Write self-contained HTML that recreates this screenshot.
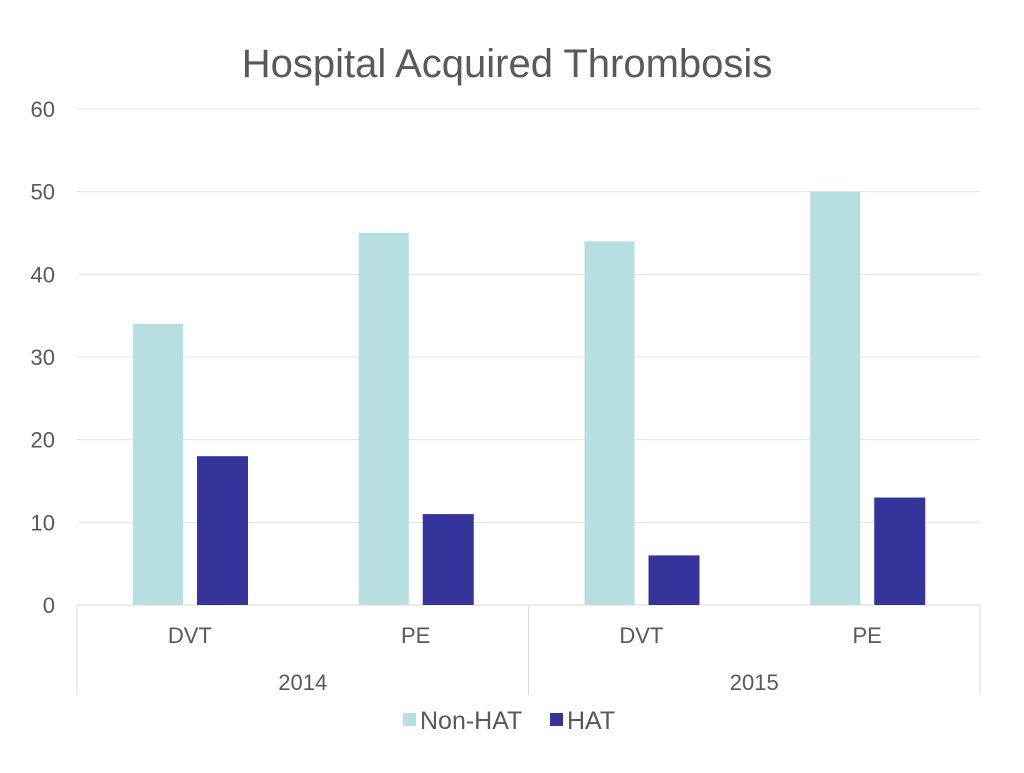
<!DOCTYPE html>
<html><head><meta charset="utf-8"><style>
body{margin:0;background:#fff;font-family:"Liberation Sans",sans-serif;}
svg text{font-family:"Liberation Sans",sans-serif;fill:#595959;}
</style></head><body>
<svg id="chart" width="1024" height="768">
<text x="507" y="77" font-size="40" text-anchor="middle">Hospital Acquired Thrombosis</text>
<g id="grid"></g><g id="bars"></g><g id="xaxis"></g>
<g>
<rect x="403" y="713" width="13" height="13" fill="#b7dfe2"/>
<text x="420" y="729" font-size="25">Non-HAT</text>
<rect x="550" y="713" width="13" height="13" fill="#34349a"/>
<text x="567" y="729" font-size="25">HAT</text>
</g>
</svg>
<script>
const categories=["DVT","PE","DVT","PE"];
const years=["2014","2015"];
const nonHat=[34,45,44,50];
const hat=[18,11,6,13];
const ticks=[0,10,20,30,40,50,60];
const X0=77,X1=980,Y0=605,Y1=109,MAX=60;
const ns="http://www.w3.org/2000/svg";
const y=v=>Y0-(v/MAX)*(Y0-Y1);
const cw=(X1-X0)/categories.length;
function mk(tag,attrs,parent,text){const e=document.createElementNS(ns,tag);for(const k in attrs)e.setAttribute(k,attrs[k]);if(text!==undefined)e.textContent=text;document.getElementById(parent).appendChild(e);return e;}
ticks.forEach(t=>{
 const l=mk("line",{x1:X0,x2:X1,y1:y(t),y2:y(t),stroke:t===0?"#d9d9d9":"#e3e3e3","stroke-width":1},"grid");
 
 
 const tx=mk("text",{x:55,y:y(t)+8,"font-size":22,"text-anchor":"end"},"grid",t);
 
 
});
categories.forEach((c,i)=>{
 const cx=X0+cw*i;
 const a=mk("rect",{x:cx+56,y:y(nonHat[i]),width:50,height:Y0-y(nonHat[i]),fill:"#b7dfe2"},"bars");
 
 
 const b=mk("rect",{x:cx+120,y:y(hat[i]),width:51,height:Y0-y(hat[i]),fill:"#34349a"},"bars");
 
 
 const t=mk("text",{x:cx+cw/2,y:643,"font-size":22,"text-anchor":"middle"},"xaxis",c);
 
 
});
years.forEach((yr,j)=>{
 const gx=X0+cw*2*j;
 const t=mk("text",{x:gx+cw,y:690,"font-size":22,"text-anchor":"middle"},"xaxis",yr);
 
 
});
[0,1,2].forEach(k=>{
 const l=mk("line",{x1:X0+cw*2*k,x2:X0+cw*2*k,y1:Y0,y2:695,stroke:"#d9d9d9","stroke-width":1},"xaxis");
 
 
});
</script>
</body></html>
